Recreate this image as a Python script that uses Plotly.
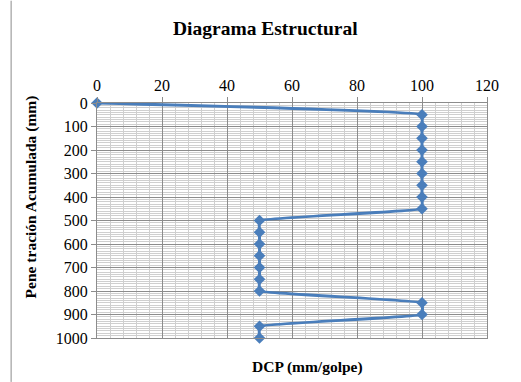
import plotly.graph_objects as go

# DCP test: blow rate (mm/golpe) against accumulated penetration (mm)
dcp_mm_golpe = [0, 100, 100, 100, 100, 100, 100, 100, 100, 100,
                50, 50, 50, 50, 50, 50, 50, 100, 100, 50, 50]
penetracion_mm = [0, 50, 100, 150, 200, 250, 300, 350, 400, 450,
                  500, 550, 600, 650, 700, 750, 800, 850, 900, 950, 1000]

x_ticks = [0, 20, 40, 60, 80, 100, 120]
y_ticks = [0, 100, 200, 300, 400, 500, 600, 700, 800, 900, 1000]

serif = "Liberation Serif, Times New Roman, serif"
blue = "#4a7ebb"
major_grid = "#8c8c8c"
minor_grid = "#cfcfcf"

fig = go.Figure()
fig.add_trace(go.Scatter(
    x=dcp_mm_golpe,
    y=penetracion_mm,
    mode="lines+markers",
    line=dict(color=blue, width=3, shape="spline", smoothing=0.2),
    marker=dict(symbol="diamond", size=9, color=blue),
    showlegend=False,
    cliponaxis=False,
))

fig.update_layout(
    width=521,
    height=382,
    margin=dict(l=97, r=33.5, t=102.5, b=44),
    paper_bgcolor="white",
    plot_bgcolor="white",
    font=dict(family=serif, color="black"),
    annotations=[
        dict(text="<b>Diagrama Estructural</b>", xref="paper", yref="paper",
             x=(266 - 97) / 390.5, y=(338 - 28) / 235.5, xanchor="center",
             yanchor="middle", showarrow=False, font=dict(size=19.5, family=serif)),
        dict(text="<b>DCP (mm/golpe)</b>", xref="paper", yref="paper",
             x=(308 - 97) / 390.5, y=(338 - 367) / 235.5, xanchor="center",
             yanchor="middle", showarrow=False, font=dict(size=15.5, family=serif)),
        dict(text="<b>Pene tración Acumulada (mm)</b>", xref="paper", yref="paper",
             x=(31 - 97) / 390.5, y=(338 - 197) / 235.5, xanchor="center",
             yanchor="middle", textangle=-90, showarrow=False,
             font=dict(size=15.5, family=serif)),
    ],
    shapes=[
        dict(type="line", xref="paper", yref="paper",
             x0=(11 - 97) / 390.5, x1=(11 - 97) / 390.5,
             y0=(338 - 382) / 235.5, y1=338 / 235.5,
             line=dict(color="#8c8c8c", width=1)),
    ],
)

fig.update_xaxes(
    side="top",
    range=[0, 120],
    tickvals=x_ticks,
    ticktext=[str(v) for v in x_ticks],
    tickfont=dict(size=16, family=serif),
    showgrid=True, gridcolor=major_grid, gridwidth=1,
    minor=dict(dtick=4, showgrid=True, gridcolor=minor_grid, gridwidth=1),
    showline=True, linecolor=major_grid, linewidth=1, mirror=True,
    ticks="outside", ticklen=5, tickcolor=major_grid,
    zeroline=False,
)
fig.update_yaxes(
    range=[1000, 0],
    tickvals=y_ticks,
    ticktext=[str(v) for v in y_ticks],
    tickfont=dict(size=16, family=serif),
    showgrid=True, gridcolor=major_grid, gridwidth=1,
    minor=dict(dtick=10, showgrid=True, gridcolor=minor_grid, gridwidth=1),
    showline=True, linecolor=major_grid, linewidth=1, mirror=True,
    ticks="outside", ticklen=5, tickcolor=major_grid,
    zeroline=False,
)

fig.write_html("out.html")
